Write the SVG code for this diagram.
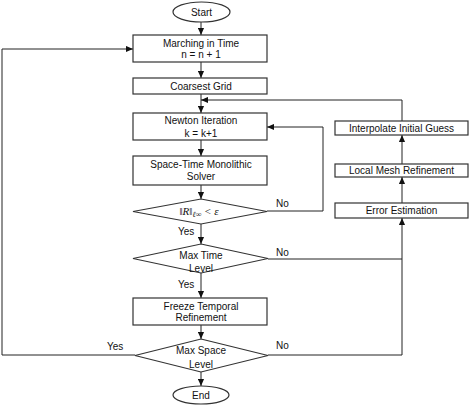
<svg xmlns="http://www.w3.org/2000/svg" width="471" height="407" viewBox="0 0 471 407">
<style>
.box{fill:#fff;stroke:#333;stroke-width:1.2}
.ln{fill:none;stroke:#222;stroke-width:1}
text{font-family:"Liberation Sans",Arial,sans-serif;font-size:10px;fill:#111;text-anchor:middle}
.lbl{text-anchor:start}
.math{font-family:"Liberation Serif","Times New Roman",serif;font-style:italic;font-size:11px}
</style>
<defs>
<marker id="ah" viewBox="0 0 8 8" refX="8" refY="4" markerWidth="7" markerHeight="7" markerUnits="userSpaceOnUse" orient="auto">
<path d="M0,0.5 L8,4 L0,7.5 Z" fill="#111"/>
</marker>
</defs>
<rect width="471" height="407" fill="#fff"/>
<g id="connectors">
<line class="ln" x1="201" y1="22" x2="201" y2="35" marker-end="url(#ah)"/>
<line class="ln" x1="201" y1="62" x2="201" y2="78" marker-end="url(#ah)"/>
<line class="ln" x1="201" y1="94" x2="201" y2="113" marker-end="url(#ah)"/>
<line class="ln" x1="201" y1="140" x2="201" y2="156" marker-end="url(#ah)"/>
<line class="ln" x1="201" y1="185" x2="201" y2="199" marker-end="url(#ah)"/>
<line class="ln" x1="201" y1="224" x2="201" y2="244" marker-end="url(#ah)"/>
<line class="ln" x1="201" y1="273" x2="201" y2="298" marker-end="url(#ah)"/>
<line class="ln" x1="201" y1="325" x2="201" y2="339" marker-end="url(#ah)"/>
<line class="ln" x1="201" y1="372" x2="201" y2="386" marker-end="url(#ah)"/>
<polyline class="ln" points="267,211 323,211 323,127 267,127" marker-end="url(#ah)"/>
<polyline class="ln" points="402,121 402,100 201,100" marker-end="url(#ah)"/>
<line class="ln" x1="402" y1="164" x2="402" y2="135" marker-end="url(#ah)"/>
<line class="ln" x1="402" y1="203" x2="402" y2="177" marker-end="url(#ah)"/>
<polyline class="ln" points="268,259 402,259 402,218" marker-end="url(#ah)"/>
<polyline class="ln" points="268,355 402,355 402,259"/>
<polyline class="ln" points="135,355 2,355 2,49 133,49" marker-end="url(#ah)"/>
<text class="lbl" x="178" y="235">Yes</text>
<text class="lbl" x="178" y="288">Yes</text>
<text class="lbl" x="107" y="350">Yes</text>
<text class="lbl" x="276" y="207">No</text>
<text class="lbl" x="276" y="256">No</text>
<text class="lbl" x="276" y="349">No</text>
</g>
<g id="start">
<ellipse class="box" cx="201.5" cy="12" rx="28.5" ry="10"/>
<text x="201.5" y="16">Start</text>
</g>
<g id="marching">
<rect class="box" x="133" y="35" width="134" height="27"/>
<text x="201" y="47">Marching in Time</text>
<text x="201" y="58">n = n + 1</text>
</g>
<g id="coarsest">
<rect class="box" x="133" y="78" width="134" height="16"/>
<text x="201" y="90">Coarsest Grid</text>
</g>
<g id="newton">
<rect class="box" x="133" y="113" width="134" height="27"/>
<text x="201" y="124">Newton Iteration</text>
<text x="201" y="137">k = k+1</text>
</g>
<g id="solver">
<rect class="box" x="133" y="156" width="134" height="29"/>
<text x="201" y="168">Space-Time Monolithic</text>
<text x="201" y="180">Solver</text>
</g>
<g id="residual">
<polygon class="box" points="201,199 267,211.5 201,224 133,211.5"/>
<text class="math" x="199" y="215">‖R‖<tspan dy="2" font-size="8">ℓ∞</tspan><tspan dy="-2"> &lt; ε</tspan></text>
</g>
<g id="maxtime">
<polygon class="box" points="201,244 268,258.5 201,273 133,258.5"/>
<text x="201" y="259">Max Time</text>
<text x="201" y="272">Level</text>
</g>
<g id="freeze">
<rect class="box" x="133" y="298" width="134" height="27"/>
<text x="201" y="310">Freeze Temporal</text>
<text x="201" y="321">Refinement</text>
</g>
<g id="maxspace">
<polygon class="box" points="201,339 268,355.5 201,372 135,355.5"/>
<text x="201" y="354">Max Space</text>
<text x="201" y="368">Level</text>
</g>
<g id="end">
<ellipse class="box" cx="201" cy="395" rx="28" ry="9"/>
<text x="201" y="399">End</text>
</g>
<g id="interpolate">
<rect class="box" x="335" y="121" width="133" height="14"/>
<text x="401.5" y="132">Interpolate Initial Guess</text>
</g>
<g id="localmesh">
<rect class="box" x="335" y="164" width="133" height="13"/>
<text x="401.5" y="174">Local Mesh Refinement</text>
</g>
<g id="error">
<rect class="box" x="335" y="203" width="133" height="15"/>
<text x="401.5" y="214">Error Estimation</text>
</g>
</svg>
